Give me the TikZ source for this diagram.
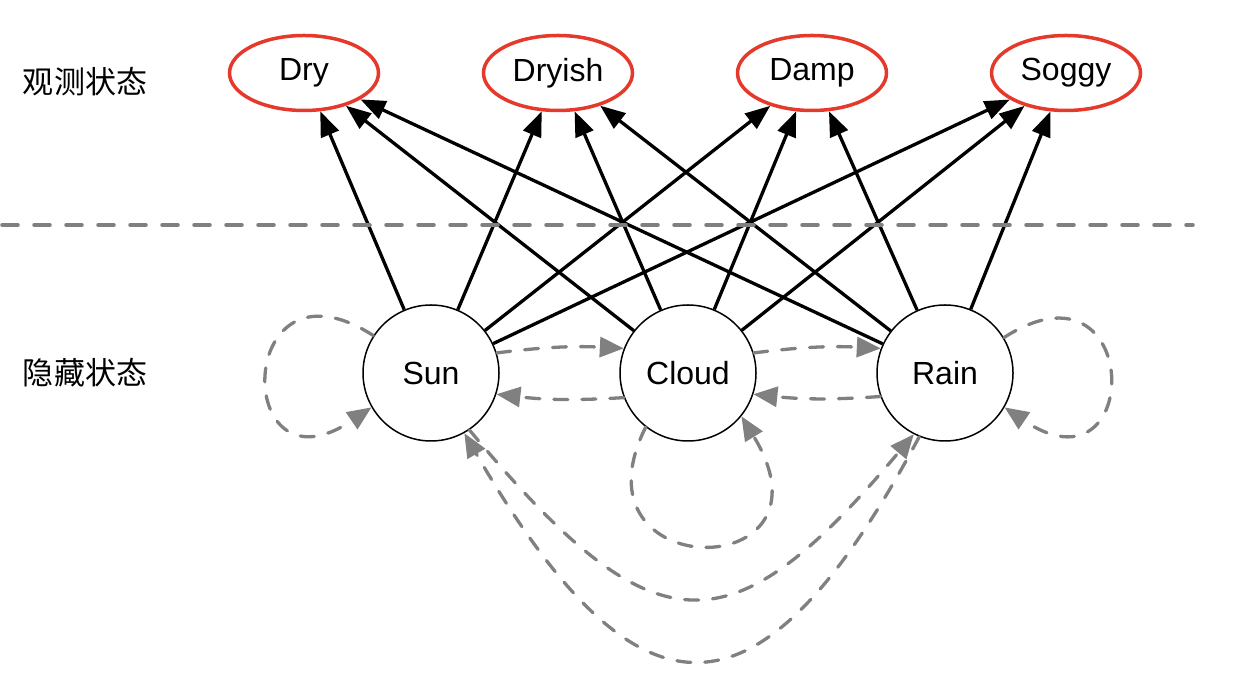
\documentclass[tikz,border=0pt]{standalone}
\usepackage{fontspec}
\setmainfont{Liberation Sans}
\newfontfamily\cjkfont{Noto Sans CJK SC}
\usetikzlibrary{arrows.meta,shapes.geometric}
\definecolor{obsred}{RGB}{229,57,43}
\definecolor{transgray}{RGB}{128,128,128}

\begin{document}
\begin{tikzpicture}[x=1pt,y=1pt,
  obs/.style={draw=obsred,line width=3.5pt,ellipse,minimum width=149pt,minimum height=75pt,inner sep=0pt,font=\fontsize{32}{38}\selectfont},
  hid/.style={draw=black,line width=1.5pt,circle,minimum size=136pt,inner sep=0pt,font=\fontsize{32}{38}\selectfont},
  emit/.style={line width=3.3pt,-{Triangle[length=25pt,width=19pt]}},
  trans/.style={draw=transgray,line width=3.3pt,line cap=round,dash pattern=on 14pt off 14pt,-{Triangle[length=24pt,width=20pt]}},
  sepline/.style={draw=transgray,line width=3.5pt,line cap=round,dash pattern=on 16pt off 16pt},
  lbl/.style={font=\cjkfont\fontsize{31}{36}\selectfont}]
\useasboundingbox (0,0) rectangle (1260,690);
\node[obs] (dry) at (304,617) {Dry};
\node[obs] (dryish) at (558,617) {Dryish};
\node[obs] (damp) at (812,617) {Damp};
\node[obs] (soggy) at (1066,617) {Soggy};
\node[hid] (sun) at (431,317) {Sun};
\node[hid] (cloud) at (688,317) {Cloud};
\node[hid] (rain) at (945,317) {Rain};
\node[lbl] (obslbl) at (85,608) {观测状态};
\node[lbl] (hidlbl) at (85,317) {隐藏状态};
\draw[emit] (sun) -- (dry);
\draw[emit] (sun) -- (dryish);
\draw[emit] (sun) -- (damp);
\draw[emit] (sun) -- (soggy);
\draw[emit] (cloud) -- (dry);
\draw[emit] (cloud) -- (dryish);
\draw[emit] (cloud) -- (damp);
\draw[emit] (cloud) -- (soggy);
\draw[emit] (rain) -- (dry);
\draw[emit] (rain) -- (dryish);
\draw[emit] (rain) -- (damp);
\draw[emit] (rain) -- (soggy);
\coordinate (sepl) at (2,465);
\coordinate (sepr) at (1193,465);
\draw[sepline] (sepl) -- (sepr);
\draw[trans] (sun.17) to[bend left=5] (cloud.159);
\draw[trans] (cloud.201) to[bend left=5] (sun.-18);
\draw[trans] (cloud.17) to[bend left=5] (rain.159);
\draw[trans] (rain.200) to[bend left=5] (cloud.-18);
\draw[trans] (sun.147) .. controls +(-140,90) and +(-140,-95) .. (sun.210);
\draw[trans] (rain.31) .. controls +(140,90) and +(140,-95) .. (rain.-30);
\draw[trans] (cloud.232) .. controls (566,104) and (845,104) .. (cloud.-39);
\draw[trans] (sun.-56) .. controls (655,37) and (730,37) .. (rain.-117);
\draw[trans] (rain.-112) .. controls (760,-45) and (639,-45) .. (sun.-61);
\end{tikzpicture}
\end{document}
